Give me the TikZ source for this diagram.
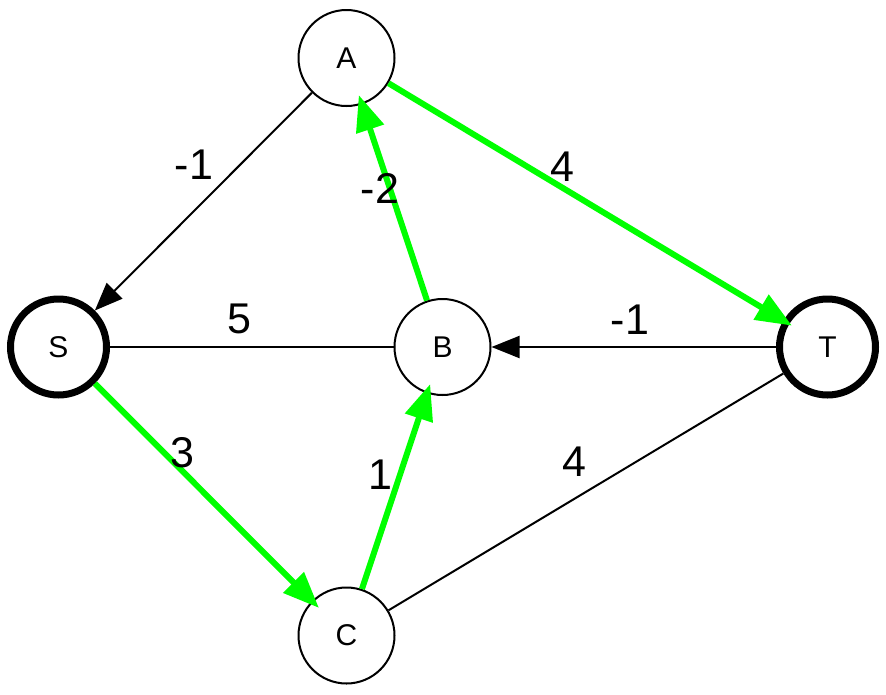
\documentclass[tikz,border=0pt]{standalone}
\usepackage{fontspec}
\setmainfont{Liberation Sans}
\usetikzlibrary{arrows.meta}
\definecolor{pathgreen}{RGB}{0,255,0}

\begin{document}
\begin{tikzpicture}[x=1pt,y=-1pt,
  vertex/.style={draw,circle,line width=2pt,minimum size=96pt,inner sep=0pt,
    font=\fontsize{30}{36}\selectfont},
  terminal/.style={vertex,line width=7pt},
  wt/.style={inner sep=0pt,font=\fontsize{43}{50}\selectfont},
  plain/.style={line width=2pt},
  arc/.style={plain,-{Triangle[length=28pt,width=22pt]}},
  used/.style={line width=6pt,pathgreen,-{Triangle[length=36pt,width=28pt]},shorten >=-10pt}]
\useasboundingbox (0,0) rectangle (886,694);
% vertices
\node[vertex] (A) at (346.5,58) {A};
\node[terminal] (S) at (58.5,347) {S};
\node[vertex] (B) at (442.5,347) {B};
\node[terminal] (T) at (827.5,347) {T};
\node[vertex] (C) at (346.5,635.5) {C};
% edges
\draw[arc] (A) -- (S);
\draw[plain] (S) -- (B);
\draw[arc] (T) -- (B);
\draw[plain] (C) -- (T);
% shortest path
\draw[used] (A) -- (T);
\draw[used] (B) -- (A);
\draw[used] (S) -- (C);
\draw[used] (C) -- (B);
% weights
\node[wt] (wAS) at (194,165) {-1};
\node[wt] (wSB) at (239,319) {5};
\node[wt] (wTB) at (630,320) {-1};
\node[wt] (wAT) at (562,167) {4};
\node[wt] (wBA) at (380,188) {-2};
\node[wt] (wSC) at (182,453) {3};
\node[wt] (wCB) at (380,475) {1};
\node[wt] (wCT) at (574,462) {4};
\end{tikzpicture}
\end{document}
